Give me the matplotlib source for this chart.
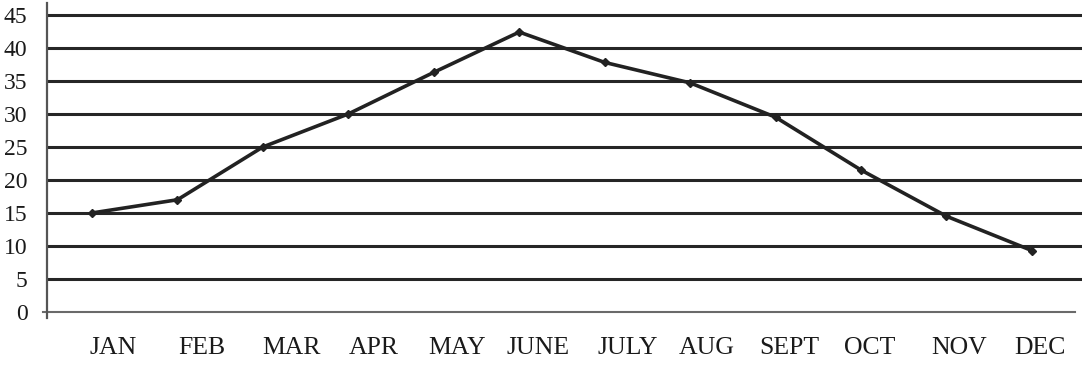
import matplotlib
matplotlib.use("Agg")
import matplotlib.pyplot as plt

months = ["JAN", "FEB", "MAR", "APR", "MAY", "JUNE", "JULY", "AUG", "SEPT", "OCT", "NOV", "DEC"]
values = [15, 17, 25, 30, 36.3, 42.4, 37.8, 34.7, 29.5, 21.5, 14.5, 9.3]
yticks = [0, 5, 10, 15, 20, 25, 30, 35, 40, 45]
# layout: where each month label sits relative to its point index
label_offsets = [0.25, 0.29, 0.34, 0.30, 0.27, 0.22, 0.27, 0.20, 0.16, 0.10, 0.15, 0.09]

plt.rcParams['font.family'] = ['Liberation Serif', 'DejaVu Serif']

fig = plt.figure(figsize=(10.82, 3.67), dpi=100)
ax = fig.add_axes([47/1082, (367-318)/367, 1 - 47/1082, 315/367])

xs = list(range(len(months)))
ax.set_xlim(-0.527, 11.586)
ax.set_ylim(-0.91, 46.8)

for t in yticks:
    if t > 0:
        ax.axhline(t, xmin=0, xmax=1, color='#262626', lw=2.2, zorder=1)
ax.axhline(0, xmin=-0.004, xmax=0.993, color='#6a6a6a', lw=1.5, clip_on=False, zorder=1)

ax.plot(xs, values, color='#222222', lw=2.6, marker='D', markersize=4.5, zorder=3)

for s in ['top', 'right', 'bottom']:
    ax.spines[s].set_visible(False)
ax.spines['left'].set_color('#555555')
ax.spines['left'].set_linewidth(1.6)

ax.set_yticks(yticks)
ax.set_yticklabels([str(t) for t in yticks], fontsize=17, color='#1a1a1a')
ax.tick_params(axis='y', length=0, pad=14)

ax.set_xticks([x + o for x, o in zip(xs, label_offsets)])
ax.set_xticklabels(months, fontsize=18.5, color='#1a1a1a')
ax.tick_params(axis='x', length=0, pad=14)

fig.savefig("out.png", dpi=100)
